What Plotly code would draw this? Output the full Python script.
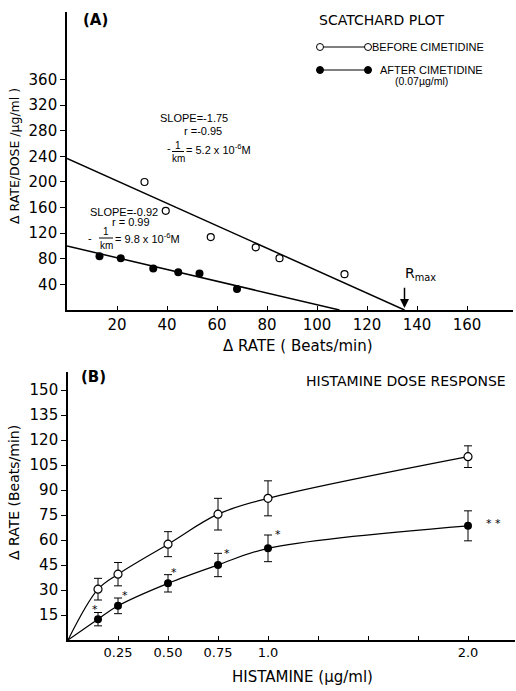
import plotly.graph_objects as go

W, H = 516, 691

# ---------------- Panel A: Scatchard plot data ----------------
scat_before_rate = [31, 39.5, 57.5, 75.5, 85, 111]
scat_before_ratio = [200, 155, 114, 98, 81, 56]
scat_after_rate = [13, 21.5, 34.5, 44.5, 53, 68]
scat_after_ratio = [84, 81, 65, 59, 57, 33]
# regression lines (intercepts on both axes)
fit_before_rate = [0, 135]
fit_before_ratio = [237, 0]
fit_after_rate = [0, 109]
fit_after_ratio = [100, 0]
rmax_value = 135

a_xticks = [20, 40, 60, 80, 100, 120, 140, 160]
a_yticks = [40, 80, 120, 160, 200, 240, 280, 320, 360]

# ---------------- Panel B: Histamine dose response ----------------
dose = [0.15, 0.25, 0.5, 0.75, 1.0, 2.0]
before_mean = [30.5, 39.5, 57.5, 75.5, 85, 110]
before_sem = [6.5, 7, 7.5, 9.5, 10.5, 6.5]
after_mean = [12.5, 20.5, 34, 45, 55, 68.5]
after_sem = [4, 4.7, 5.2, 7, 8, 9]
curve_origin_dose = [0.0]
curve_origin_rate = [0.0]
star_dose = [0.135, 0.285, 0.53, 0.795, 1.05, 2.08]
star_rate = [18.5, 26.5, 40.5, 52, 63.5, 70]
star_text = ["*", "*", "*", "*", "*", "* *"]

b_xtickvals = [0.25, 0.5, 0.75, 1.0, 2.0]
b_xticktext = ["0.25", "0.50", "0.75", "1.0", "2.0"]
b_minor_ticks = [1.25, 1.5, 1.75]
b_yticks = [15, 30, 45, 60, 75, 90, 105, 120, 135, 150]

FONT = "DejaVu Sans"
SMALL = "Liberation Sans Narrow, Liberation Sans, sans-serif"


def px(x, y):
    return x / W, 1 - y / H


fig = go.Figure()

# Panel A traces
fig.add_trace(go.Scatter(x=fit_before_rate, y=fit_before_ratio, mode="lines",
                         line=dict(color="black", width=1.5), xaxis="x", yaxis="y"))
fig.add_trace(go.Scatter(x=fit_after_rate, y=fit_after_ratio, mode="lines",
                         line=dict(color="black", width=1.5), xaxis="x", yaxis="y"))
fig.add_trace(go.Scatter(x=scat_before_rate, y=scat_before_ratio, mode="markers",
                         marker=dict(symbol="circle-open", size=7, color="black",
                                     line=dict(width=1.2, color="black")),
                         xaxis="x", yaxis="y"))
fig.add_trace(go.Scatter(x=scat_after_rate, y=scat_after_ratio, mode="markers",
                         marker=dict(symbol="circle", size=8, color="black"),
                         xaxis="x", yaxis="y"))

# Panel B traces
fig.add_trace(go.Scatter(x=curve_origin_dose + dose, y=curve_origin_rate + before_mean,
                         mode="lines", line=dict(color="black", width=1.2, shape="spline"),
                         xaxis="x2", yaxis="y2"))
fig.add_trace(go.Scatter(x=curve_origin_dose + dose, y=curve_origin_rate + after_mean,
                         mode="lines", line=dict(color="black", width=1.2, shape="spline"),
                         xaxis="x2", yaxis="y2"))
fig.add_trace(go.Scatter(x=dose, y=before_mean, mode="markers",
                         marker=dict(symbol="circle", size=8, color="white",
                                     line=dict(width=1.2, color="black")),
                         error_y=dict(type="data", array=before_sem, color="black",
                                      thickness=1, width=4),
                         xaxis="x2", yaxis="y2"))
fig.add_trace(go.Scatter(x=dose, y=after_mean, mode="markers",
                         marker=dict(symbol="circle", size=8, color="black"),
                         error_y=dict(type="data", array=after_sem, color="black",
                                      thickness=1, width=4),
                         xaxis="x2", yaxis="y2"))

axis_common = dict(showline=True, linecolor="black", linewidth=1.6, showgrid=False,
                   zeroline=False, ticks="outside", ticklen=5, tickwidth=1.3,
                   tickcolor="black")

fig.update_layout(
    width=W, height=H, autosize=False,
    margin=dict(l=0, r=0, t=0, b=0),
    paper_bgcolor="white", plot_bgcolor="white",
    showlegend=False,
    font=dict(family=FONT, color="black"),
    xaxis=dict(axis_common, domain=[67 / W, 513 / W], range=[0, 178.4],
               tickvals=a_xticks, ticks="inside", ticklen=4,
               tickfont=dict(family=FONT, size=15), anchor="y"),
    yaxis=dict(axis_common, domain=[1 - 310 / H, 1 - 12 / H], range=[0, 465.6],
               tickvals=a_yticks, tickfont=dict(family=FONT, size=15), anchor="x"),
    xaxis2=dict(axis_common, domain=[68 / W, 515 / W], range=[0, 2.235],
                tickvals=b_xtickvals, ticktext=b_xticktext, ticks="inside", ticklen=4,
                minor=dict(tickvals=b_minor_ticks, ticks="inside", ticklen=4,
                           tickwidth=1.3, tickcolor="black"),
                tickfont=dict(family=FONT, size=13), anchor="y2"),
    yaxis2=dict(axis_common, domain=[1 - 640 / H, 1 - 372 / H], range=[0, 160.8],
                tickvals=b_yticks, tickfont=dict(family=FONT, size=15), anchor="x2"),
)

ann = []


def text(x, y, s, size=10, family=SMALL, xanchor="center", angle=0, bold=False):
    xp, yp = px(x, y)
    ann.append(dict(x=xp, y=yp, xref="paper", yref="paper", text=s, showarrow=False,
                    xanchor=xanchor, yanchor="middle", textangle=angle,
                    font=dict(family=family, size=size, color="black",
                              weight="bold" if bold else "normal")))


# Panel A labels
text(95, 20, "(A)", size=15, family=FONT, bold=True)
text(381, 20, "SCATCHARD PLOT", size=14, family=FONT)
text(370, 47, "BEFORE CIMETIDINE", size=11, family="Liberation Sans", xanchor="left")
text(378, 70, "AFTER CIMETIDINE", size=11, family="Liberation Sans", xanchor="left")
text(421, 81, "(0.07µg/ml)", size=10.5, family="Liberation Sans")

text(158, 118, "SLOPE=-1.75", size=11, xanchor="left")
text(182, 131, "r =-0.95", size=11, xanchor="left")
text(169, 148, "-", size=11)
text(178, 145, "1", size=10)
text(178, 158, "km", size=10)
text(184, 149, "= 5.2 x 10<sup>-6</sup>M", size=11, xanchor="left")

text(88, 212, "SLOPE=-0.92", size=11, xanchor="left")
text(110, 222, "r = 0.99", size=11, xanchor="left")
text(90, 238, "-", size=11)
text(106, 231, "1", size=10)
text(106, 245, "km", size=10)
text(113, 238, "= 9.8 x 10<sup>-6</sup>M", size=11, xanchor="left")

text(14, 156, "Δ RATE/DOSE /µg/ml )", size=12.5, family=FONT, angle=-90)
text(298, 346, "Δ RATE ( Beats/min)", size=15, family=FONT)

# Rmax label and arrow (data coords)
ann.append(dict(x=141.2, y=56, xref="x", yref="y", text="R<sub>max</sub>",
                showarrow=False, font=dict(family=FONT, size=14, color="black")))
ann.append(dict(x=rmax_value, y=3, xref="x", yref="y", ax=rmax_value, ay=37,
                axref="x", ayref="y", text="", showarrow=True, arrowhead=2,
                arrowsize=1.2, arrowwidth=1.5, arrowcolor="black"))

# Panel B labels
text(93, 377, "(B)", size=15, family=FONT, bold=True)
text(406, 381, "HISTAMINE DOSE RESPONSE", size=14, family=FONT)
text(14, 493, "Δ RATE (Beats/min)", size=14, family=FONT, angle=-90)
text(302, 677, "HISTAMINE (µg/ml)", size=15, family=FONT)

for sx, sy, st in zip(star_dose, star_rate, star_text):
    ann.append(dict(x=sx, y=sy, xref="x2", yref="y2", text=st, showarrow=False,
                    xanchor="left" if st != "*" else "center",
                    font=dict(family=FONT, size=11, color="black")))

fig.update_layout(annotations=ann)

# Legend glyphs and fraction bars for panel A (decorative)
shapes = []
for yy, filled in [(47, False), (70, True)]:
    x0p, yp = px(320, yy)
    x1p, _ = px(368, yy)
    shapes.append(dict(type="line", xref="paper", yref="paper", x0=x0p, x1=x1p,
                       y0=yp, y1=yp, line=dict(color="black", width=1)))
    for xc in (x0p, x1p):
        shapes.append(dict(type="circle", xref="paper", yref="paper",
                           xsizemode="pixel", ysizemode="pixel",
                           xanchor=xc, yanchor=yp, x0=-3.5, x1=3.5, y0=-3.5, y1=3.5,
                           fillcolor="black" if filled else "white",
                           line=dict(color="black", width=1)))
for xa, xb, yy in [(172, 184, 151.5), (99, 113, 238)]:
    p0 = px(xa, yy)
    p1 = px(xb, yy)
    shapes.append(dict(type="line", xref="paper", yref="paper", x0=p0[0], x1=p1[0],
                       y0=p0[1], y1=p1[1], line=dict(color="black", width=1)))
fig.update_layout(shapes=shapes)

fig.write_html("out.html", config={"displayModeBar": False},
               post_script="document.body.style.margin='0';document.body.style.padding='0';")
